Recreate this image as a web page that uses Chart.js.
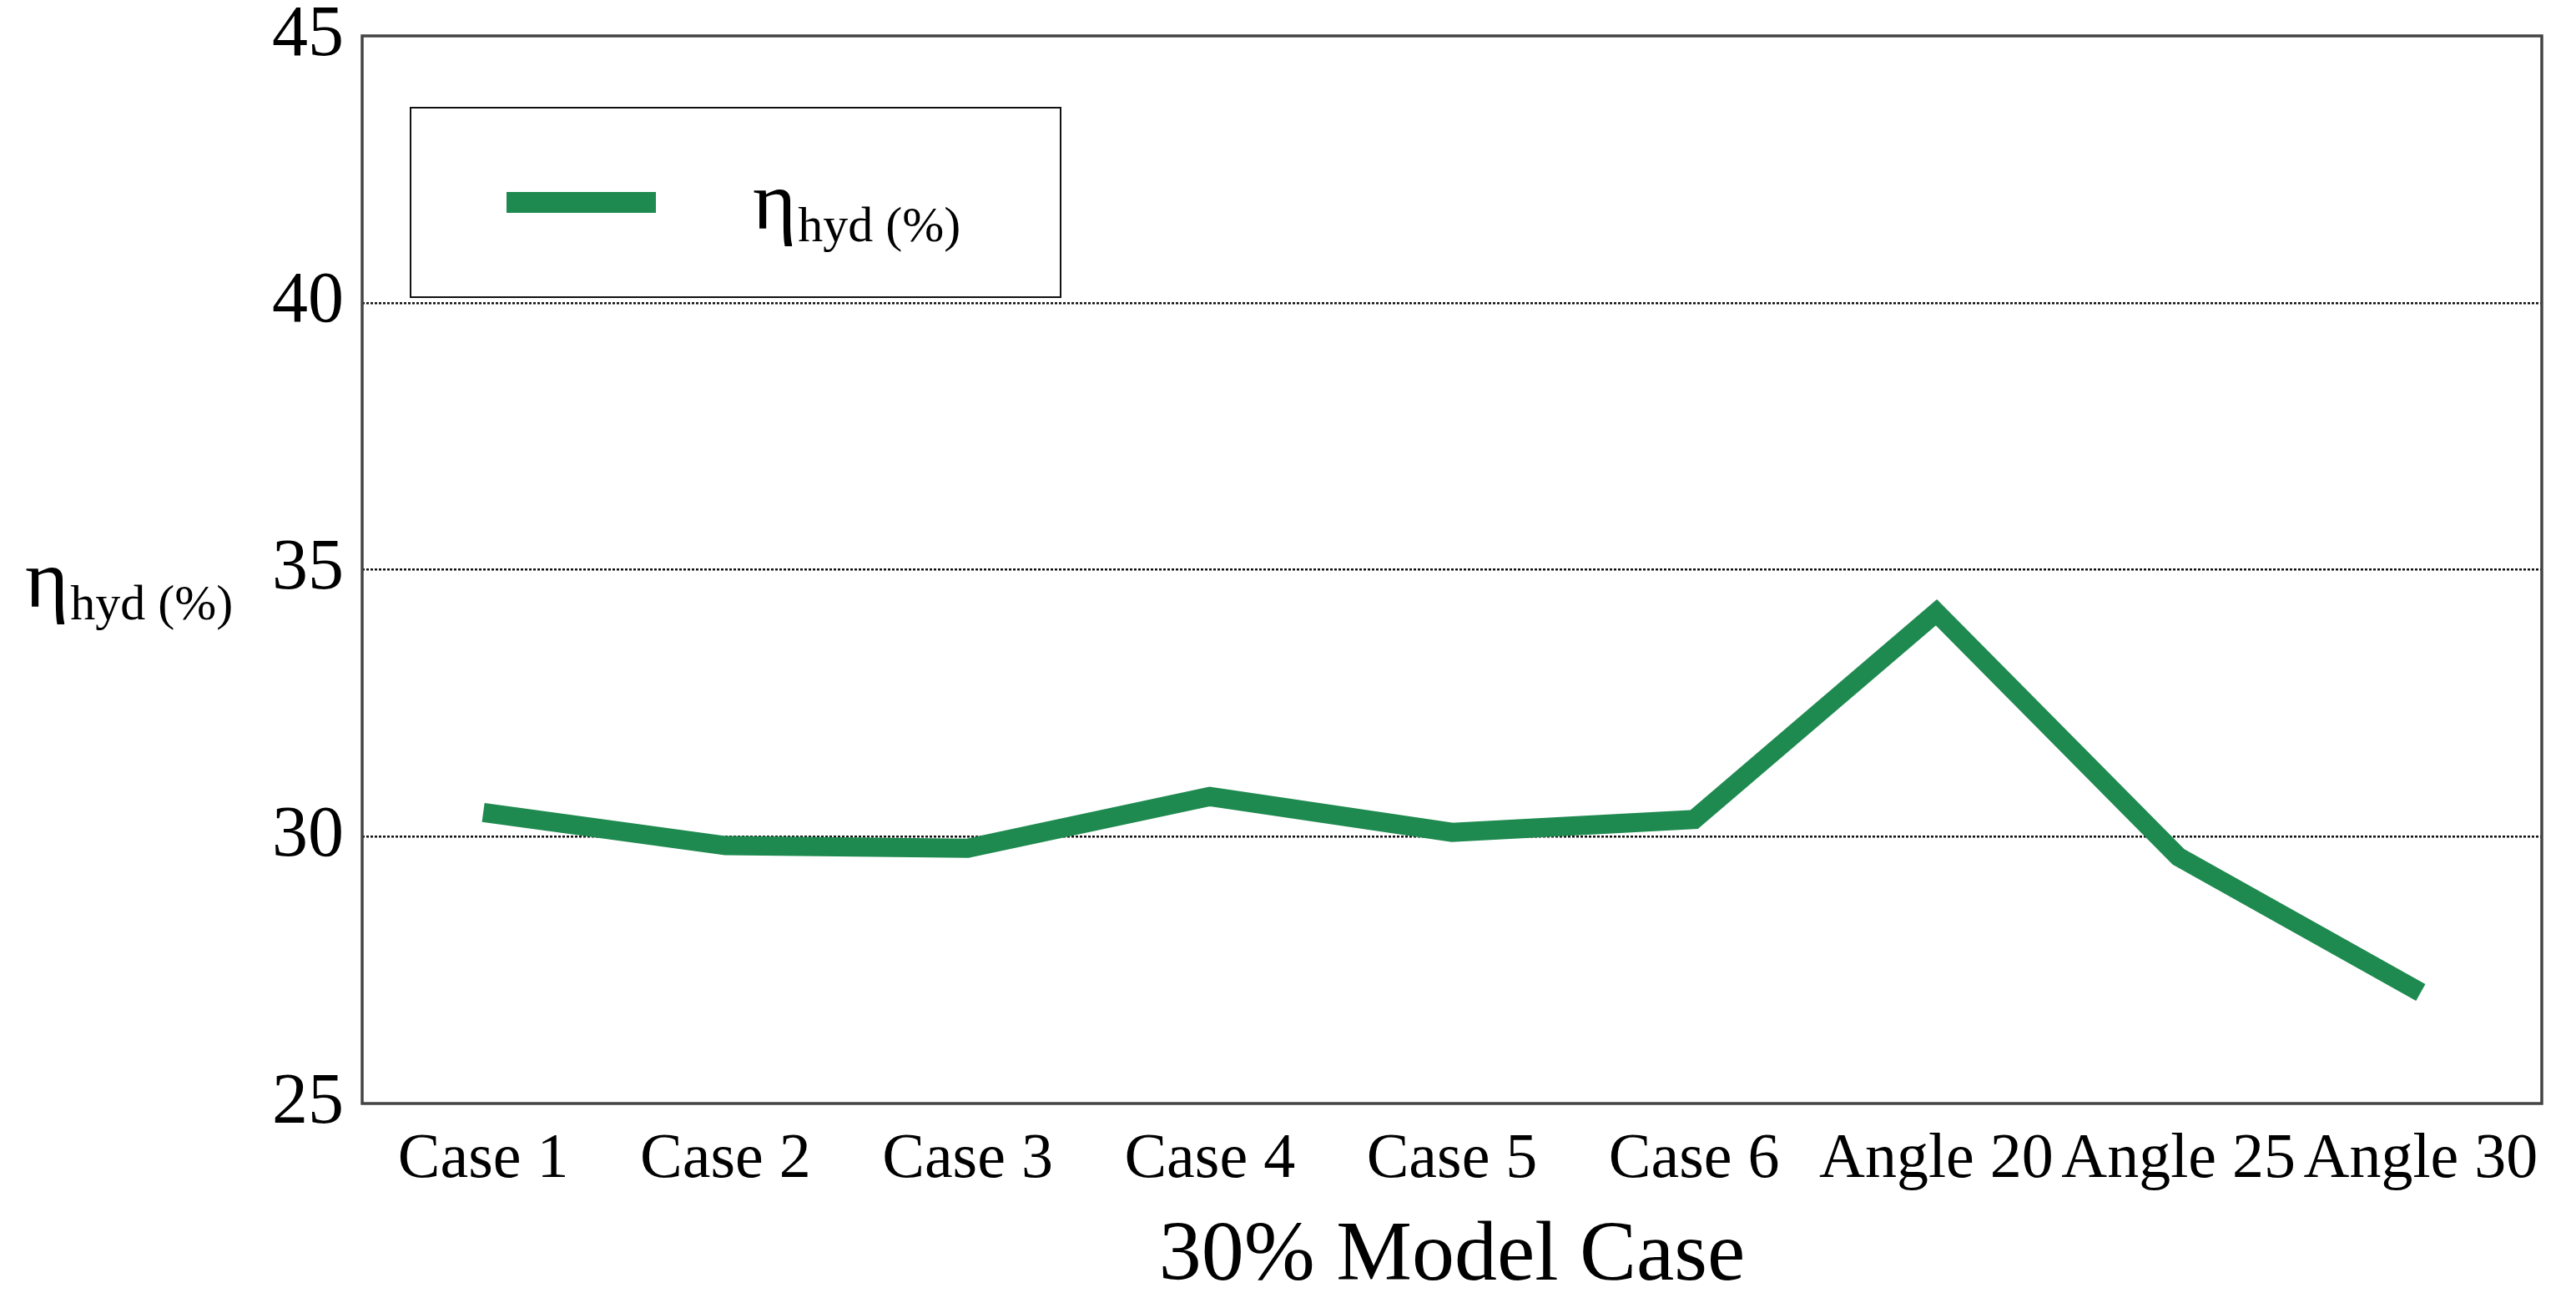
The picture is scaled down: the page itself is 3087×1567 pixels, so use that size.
<!DOCTYPE html>
<html>
<head>
<meta charset="utf-8">
<script src="https://cdn.jsdelivr.net/npm/chart.js@4.4.0/dist/chart.umd.min.js"></script>
<style>
  html, body { margin: 0; padding: 0; background: #fff; }
</style>
</head>
<body>
<canvas id="chartCanvas" width="3087" height="1567"></canvas>
<script>
"use strict";

// values
var categories = ["Case 1", "Case 2", "Case 3", "Case 4", "Case 5", "Case 6",
                  "Angle 20", "Angle 25", "Angle 30"];
var eta_hyd = [30.45, 29.83, 29.78, 30.75, 30.08, 30.32, 34.2, 29.62, 27.08];
var y_ticks = [25, 30, 35, 40, 45];

var line_color = "#1f8a50";
var serif = "'Liberation Serif', 'Times New Roman', serif";

// eta with a subscript, drawn as canvas text
function draw_eta(ctx, x, y_base) {
    ctx.save();
    ctx.fillStyle = "#000";
    ctx.textBaseline = "alphabetic";
    ctx.textAlign = "left";
    ctx.font = "100px " + serif;
    ctx.fillText("\u03b7", x, y_base);
    var w = ctx.measureText("\u03b7").width;
    ctx.font = "60px " + serif;
    ctx.fillText("hyd (%)", x + w + 2, y_base + 15);
    ctx.restore();
}

var frame_plugin = {
    id: "frame",
    afterDraw: function(chart) {
        var ctx = chart.ctx;
        var a = chart.chartArea;
        ctx.save();
        ctx.strokeStyle = "#444";
        ctx.lineWidth = 3.5;
        ctx.strokeRect(a.left, a.top, a.right - a.left, a.bottom - a.top);

        // legend box
        ctx.lineWidth = 2;
        ctx.strokeStyle = "#111";
        ctx.strokeRect(492, 129, 779, 227);
        ctx.fillStyle = chart.data.datasets[0].borderColor;
        ctx.fillRect(607, 230, 179, 25);
        ctx.restore();
        draw_eta(ctx, 902, 274);

        // y axis title
        draw_eta(ctx, 30, 727);
    }
};

var chart_context = document.getElementById("chartCanvas").getContext("2d");
var chart = new Chart(chart_context, {
    type: "line",
    data: {
        labels: categories,
        datasets: [{
            label: "\u03b7hyd (%)",
            data: eta_hyd,
            borderColor: line_color,
            backgroundColor: line_color,
            borderWidth: 23,
            borderJoinStyle: "miter",
            borderCapStyle: "butt",
            pointRadius: 0,
            tension: 0,
            fill: false
        }]
    },
    options: {
        responsive: false,
        devicePixelRatio: 1,
        animation: false,
        layout: { padding: { top: 43, right: 41, left: 0, bottom: 0 } },
        plugins: {
            legend: { display: false },
            tooltip: { enabled: false }
        },
        scales: {
            x: {
                offset: true,
                grid: { display: false, drawTicks: false },
                border: { display: false },
                ticks: {
                    autoSkip: false,
                    maxRotation: 0,
                    minRotation: 0,
                    padding: 22,
                    color: "#000",
                    font: { family: serif, size: 76 }
                },
                title: {
                    display: true,
                    text: "30% Model Case",
                    color: "#000",
                    padding: { top: 0, bottom: 0 },
                    font: { family: serif, size: 102 }
                },
                afterFit: function(scale) { scale.height = 245; }
            },
            y: {
                min: 25,
                max: 45,
                afterBuildTicks: function(scale) {
                    scale.ticks = y_ticks.map(function(v) { return { value: v }; });
                },
                grid: {
                    drawTicks: false,
                    lineWidth: 2.5,
                    color: function(c) {
                        var v = c.tick ? c.tick.value : null;
                        return (v === 25 || v === 45) ? "rgba(0,0,0,0)" : "#111";
                    }
                },
                border: { display: false, dash: [3, 2] },
                ticks: {
                    padding: 22,
                    color: "#000",
                    font: { family: serif, size: 86, lineHeight: 0.4 }
                },
                afterFit: function(scale) { scale.width = 434; }
            }
        }
    },
    plugins: [frame_plugin]
});
</script>
</body>
</html>
